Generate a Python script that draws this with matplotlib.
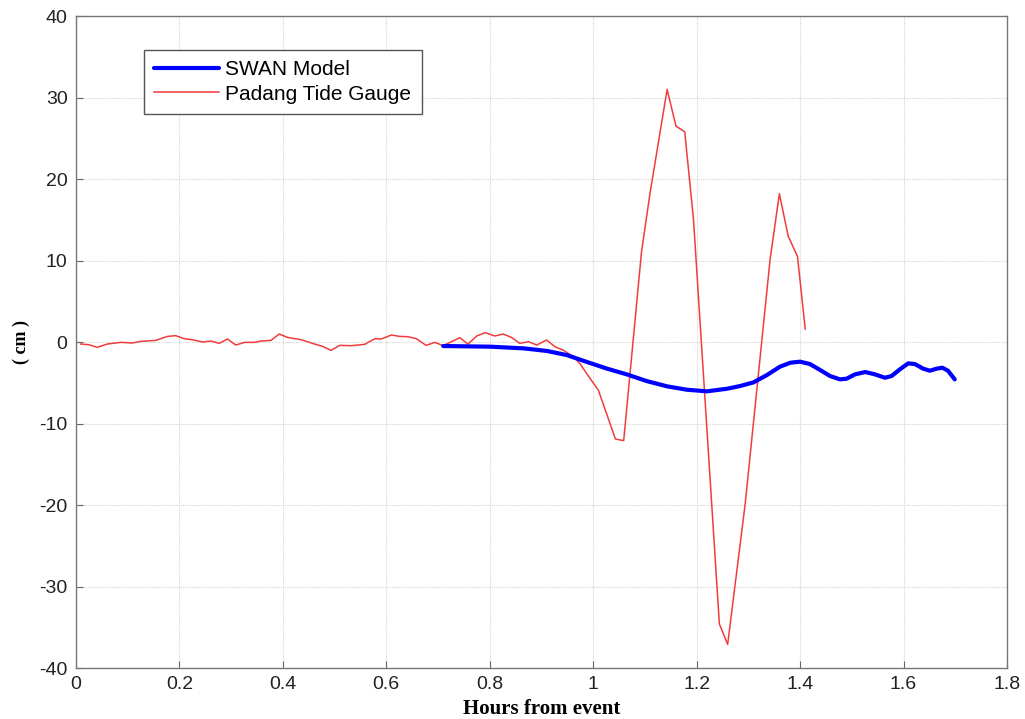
import matplotlib
matplotlib.use("Agg")
import matplotlib.pyplot as plt

plt.rcParams["axes.unicode_minus"] = False

# Padang tide gauge record (hours from event, cm)
gauge_hours = [0.009, 0.025, 0.041, 0.061, 0.087, 0.109, 0.125, 0.154, 0.177, 0.193,
               0.209, 0.225, 0.245, 0.261, 0.277, 0.293, 0.309, 0.326, 0.345, 0.358,
               0.377, 0.393, 0.409, 0.435, 0.461, 0.477, 0.493, 0.510, 0.532, 0.558,
               0.578, 0.590, 0.610, 0.626, 0.642, 0.658, 0.677, 0.694, 0.710, 0.726,
               0.742, 0.758, 0.775, 0.791, 0.810, 0.826, 0.842, 0.858, 0.875, 0.891,
               0.910, 0.926, 0.942, 0.962, 0.975, 0.991, 1.010, 1.043, 1.059, 1.0935,
               1.110, 1.143, 1.160, 1.177, 1.194, 1.244, 1.260, 1.294, 1.342, 1.360,
               1.377, 1.395, 1.410]
gauge_cm = [-0.24, -0.33, -0.65, -0.24, -0.04, -0.12, 0.08, 0.20, 0.69, 0.78,
            0.41, 0.29, 0.00, 0.12, -0.16, 0.37, -0.37, -0.04, -0.04, 0.12,
            0.20, 0.98, 0.57, 0.29, -0.24, -0.53, -1.02, -0.41, -0.45, -0.29,
            0.41, 0.37, 0.86, 0.69, 0.65, 0.41, -0.41, -0.04, -0.45, 0.04,
            0.53, -0.25, 0.74, 1.15, 0.74, 0.98, 0.57, -0.16, 0.04, -0.37,
            0.25, -0.57, -1.0, -1.8, -2.7, -4.2, -5.9, -11.9, -12.1, 11.1,
            18.3, 31.0, 26.5, 25.8, 15.0, -34.6, -37.1, -19.8, 10.1, 18.2,
            13.0, 10.5, 1.6]

# SWAN model output
swan_hours = [0.710, 0.801, 0.866, 0.911, 0.949, 0.988, 1.027, 1.065, 1.104, 1.143,
              1.181, 1.220, 1.259, 1.284, 1.310, 1.336, 1.361, 1.381, 1.400, 1.419,
              1.439, 1.458, 1.477, 1.490, 1.506, 1.526, 1.545, 1.564, 1.577, 1.593,
              1.609, 1.622, 1.638, 1.651, 1.664, 1.675, 1.686, 1.699]
swan_cm = [-0.49, -0.57, -0.78, -1.1, -1.6, -2.45, -3.27, -3.97, -4.8, -5.44,
           -5.85, -6.05, -5.73, -5.4, -4.95, -4.05, -3.03, -2.54, -2.41, -2.7,
           -3.44, -4.17, -4.58, -4.5, -3.97, -3.68, -3.97, -4.38, -4.17, -3.35,
           -2.62, -2.7, -3.27, -3.52, -3.27, -3.15, -3.52, -4.58]

x_ticks = [0, 0.2, 0.4, 0.6, 0.8, 1, 1.2, 1.4, 1.6, 1.8]
x_labels = ["0", "0.2", "0.4", "0.6", "0.8", "1", "1.2", "1.4", "1.6", "1.8"]
y_ticks = [-40, -30, -20, -10, 0, 10, 20, 30, 40]

fig = plt.figure(figsize=(10.25, 7.19), dpi=100)
ax = fig.add_axes([0.0741, 0.0709, 0.9083, 0.9068])

ax.plot(swan_hours, swan_cm, color="#0000ff", linewidth=3, label="SWAN Model",
        solid_capstyle="round", solid_joinstyle="round", zorder=3)
ax.plot(gauge_hours, gauge_cm, color="#f03c3c", linewidth=1.1, label="Padang Tide Gauge",
        zorder=2)

ax.set_xlim(0, 1.8)
ax.set_ylim(-40, 40)
ax.set_xticks(x_ticks)
ax.set_xticklabels(x_labels)
ax.set_yticks(y_ticks)
ax.tick_params(direction="in", length=5, width=0.8, color="#666666",
               labelsize=14, labelcolor="#222222")
for lab in ax.get_xticklabels() + ax.get_yticklabels():
    lab.set_family("Liberation Sans")
ax.tick_params(axis="x", pad=6)
ax.tick_params(axis="y", pad=6)

ax.grid(True, color="#d4d4d4", linestyle=(0, (1, 1)), linewidth=0.8)
for s in ax.spines.values():
    s.set_color("#777777")
    s.set_linewidth(1.0)

ax.set_xlabel("Hours from event", fontfamily="Liberation Serif", fontweight="bold",
              fontsize=15, labelpad=4)
ax.set_ylabel("( cm )", fontfamily="Liberation Serif", fontweight="bold",
              fontsize=13, labelpad=7)

leg = ax.legend(loc="upper left", bbox_to_anchor=(0.073, 0.948), borderaxespad=0,
                fancybox=False, framealpha=1, edgecolor="#555555",
                prop={"family": "Liberation Sans", "size": 15},
                handlelength=3.1, borderpad=0.5, labelspacing=0.25, handletextpad=0.3)
leg.get_frame().set_linewidth(1.0)

fig.savefig("out.png", dpi=100)
plt.close(fig)
